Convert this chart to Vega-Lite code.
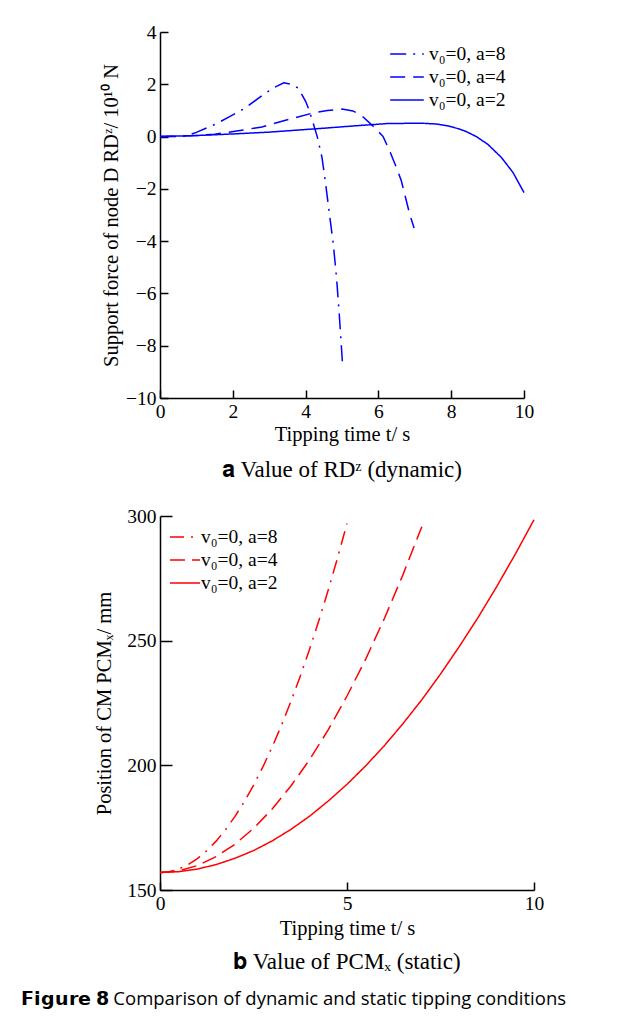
{
  "$schema": "https://vega.github.io/schema/vega-lite/v6.json",
  "background": "white",
  "padding": {"left": 20, "top": 22, "right": 5, "bottom": 5},
  "spacing": 24,
  "resolve": {"scale": {"strokeDash": "independent"}, "legend": {"strokeDash": "independent"}},
  "config": {
    "font": "Liberation Serif",
    "view": {"stroke": null},
    "axis": {
      "domainColor": "black", "domainWidth": 1.5,
      "tickColor": "black", "tickWidth": 1.5, "tickSize": -8,
      "labelPadding": 12, "labelFont": "Liberation Serif", "labelFontSize": 19.5, "labelColor": "black", "labelFlush": false,
      "titleFont": "Liberation Serif", "titleFontSize": 20.5, "titleFontWeight": "normal", "titleColor": "black",
      "grid": false
    },
    "legend": {
      "orient": "none", "title": null, "symbolSize": 576,
      "symbolStrokeWidth": 1.5, "labelFont": "Liberation Serif", "labelFontSize": 19.5, "labelColor": "black",
      "rowPadding": 0
    },
    "title": {"font": "Liberation Serif", "fontSize": 23, "fontWeight": "normal", "color": "black"}
  },
  "title": {
    "text": "𝗙𝗶𝗴𝘂𝗿𝗲 𝟴  Comparison of dynamic and static tipping conditions",
    "orient": "bottom", "anchor": "start", "font": "Open Sans", "fontSize": 18.5, "fontWeight": "normal", "dx": -74, "offset": 16
  },
  "datasets": {
    "a": [
      {"s": "v₀=0, a=8", "t": 0, "v": 0},
      {"s": "v₀=0, a=8", "t": 0.3, "v": 0},
      {"s": "v₀=0, a=8", "t": 0.7, "v": 0.02},
      {"s": "v₀=0, a=8", "t": 1.0, "v": 0.16},
      {"s": "v₀=0, a=8", "t": 1.5, "v": 0.46},
      {"s": "v₀=0, a=8", "t": 1.9, "v": 0.75},
      {"s": "v₀=0, a=8", "t": 2.3, "v": 1.06},
      {"s": "v₀=0, a=8", "t": 2.8, "v": 1.56},
      {"s": "v₀=0, a=8", "t": 3.1, "v": 1.85},
      {"s": "v₀=0, a=8", "t": 3.4, "v": 2.06},
      {"s": "v₀=0, a=8", "t": 3.6, "v": 2.0},
      {"s": "v₀=0, a=8", "t": 3.8, "v": 1.85},
      {"s": "v₀=0, a=8", "t": 4.0, "v": 1.35},
      {"s": "v₀=0, a=8", "t": 4.1, "v": 1.0},
      {"s": "v₀=0, a=8", "t": 4.2, "v": 0.55},
      {"s": "v₀=0, a=8", "t": 4.32, "v": 0},
      {"s": "v₀=0, a=8", "t": 4.45, "v": -0.8},
      {"s": "v₀=0, a=8", "t": 4.55, "v": -1.8},
      {"s": "v₀=0, a=8", "t": 4.64, "v": -2.8},
      {"s": "v₀=0, a=8", "t": 4.76, "v": -4.1},
      {"s": "v₀=0, a=8", "t": 4.85, "v": -5.4},
      {"s": "v₀=0, a=8", "t": 4.92, "v": -6.7},
      {"s": "v₀=0, a=8", "t": 5.01, "v": -8.6},
      {"s": "v₀=0, a=4", "t": 0, "v": 0},
      {"s": "v₀=0, a=4", "t": 0.5, "v": 0.01},
      {"s": "v₀=0, a=4", "t": 1.0, "v": 0.04},
      {"s": "v₀=0, a=4", "t": 1.5, "v": 0.09},
      {"s": "v₀=0, a=4", "t": 2.15, "v": 0.22},
      {"s": "v₀=0, a=4", "t": 2.8, "v": 0.37},
      {"s": "v₀=0, a=4", "t": 3.5, "v": 0.64},
      {"s": "v₀=0, a=4", "t": 4.25, "v": 0.92},
      {"s": "v₀=0, a=4", "t": 4.6, "v": 1.0},
      {"s": "v₀=0, a=4", "t": 5.0, "v": 1.05},
      {"s": "v₀=0, a=4", "t": 5.3, "v": 0.98},
      {"s": "v₀=0, a=4", "t": 5.55, "v": 0.79},
      {"s": "v₀=0, a=4", "t": 5.9, "v": 0.34},
      {"s": "v₀=0, a=4", "t": 6.13, "v": 0},
      {"s": "v₀=0, a=4", "t": 6.31, "v": -0.55},
      {"s": "v₀=0, a=4", "t": 6.5, "v": -1.2},
      {"s": "v₀=0, a=4", "t": 6.63, "v": -1.69},
      {"s": "v₀=0, a=4", "t": 6.86, "v": -2.97},
      {"s": "v₀=0, a=4", "t": 6.98, "v": -3.5},
      {"s": "v₀=0, a=2", "t": 0, "v": 0},
      {"s": "v₀=0, a=2", "t": 1, "v": 0.04},
      {"s": "v₀=0, a=2", "t": 2, "v": 0.1},
      {"s": "v₀=0, a=2", "t": 3, "v": 0.17},
      {"s": "v₀=0, a=2", "t": 4, "v": 0.27},
      {"s": "v₀=0, a=2", "t": 4.5, "v": 0.32},
      {"s": "v₀=0, a=2", "t": 5.35, "v": 0.41},
      {"s": "v₀=0, a=2", "t": 6.27, "v": 0.5},
      {"s": "v₀=0, a=2", "t": 7.2, "v": 0.51},
      {"s": "v₀=0, a=2", "t": 7.6, "v": 0.48},
      {"s": "v₀=0, a=2", "t": 7.9, "v": 0.41},
      {"s": "v₀=0, a=2", "t": 8.2, "v": 0.3},
      {"s": "v₀=0, a=2", "t": 8.4, "v": 0.2},
      {"s": "v₀=0, a=2", "t": 8.69, "v": 0},
      {"s": "v₀=0, a=2", "t": 9.0, "v": -0.29},
      {"s": "v₀=0, a=2", "t": 9.38, "v": -0.8},
      {"s": "v₀=0, a=2", "t": 9.7, "v": -1.38},
      {"s": "v₀=0, a=2", "t": 10, "v": -2.14}
    ],
    "b": [
      {"s": "v₀=0, a=8", "t": 0, "p": 157},
      {"s": "v₀=0, a=8", "t": 0.25, "p": 157.35},
      {"s": "v₀=0, a=8", "t": 0.5, "p": 158.4},
      {"s": "v₀=0, a=8", "t": 0.75, "p": 160.15},
      {"s": "v₀=0, a=8", "t": 1, "p": 162.6},
      {"s": "v₀=0, a=8", "t": 1.25, "p": 165.75},
      {"s": "v₀=0, a=8", "t": 1.5, "p": 169.6},
      {"s": "v₀=0, a=8", "t": 1.75, "p": 174.15},
      {"s": "v₀=0, a=8", "t": 2, "p": 179.4},
      {"s": "v₀=0, a=8", "t": 2.25, "p": 185.35},
      {"s": "v₀=0, a=8", "t": 2.5, "p": 192},
      {"s": "v₀=0, a=8", "t": 2.75, "p": 199.35},
      {"s": "v₀=0, a=8", "t": 3, "p": 207.4},
      {"s": "v₀=0, a=8", "t": 3.25, "p": 216.15},
      {"s": "v₀=0, a=8", "t": 3.5, "p": 225.6},
      {"s": "v₀=0, a=8", "t": 3.75, "p": 235.75},
      {"s": "v₀=0, a=8", "t": 4, "p": 246.6},
      {"s": "v₀=0, a=8", "t": 4.25, "p": 258.15},
      {"s": "v₀=0, a=8", "t": 4.5, "p": 270.4},
      {"s": "v₀=0, a=8", "t": 4.75, "p": 283.35},
      {"s": "v₀=0, a=8", "t": 5, "p": 297},
      {"s": "v₀=0, a=4", "t": 0, "p": 157},
      {"s": "v₀=0, a=4", "t": 0.5, "p": 157.7},
      {"s": "v₀=0, a=4", "t": 1, "p": 159.8},
      {"s": "v₀=0, a=4", "t": 1.5, "p": 163.4},
      {"s": "v₀=0, a=4", "t": 2, "p": 168.3},
      {"s": "v₀=0, a=4", "t": 2.5, "p": 174.7},
      {"s": "v₀=0, a=4", "t": 3, "p": 182.5},
      {"s": "v₀=0, a=4", "t": 3.5, "p": 191.7},
      {"s": "v₀=0, a=4", "t": 4, "p": 202.3},
      {"s": "v₀=0, a=4", "t": 4.5, "p": 214.3},
      {"s": "v₀=0, a=4", "t": 5, "p": 227.8},
      {"s": "v₀=0, a=4", "t": 5.5, "p": 242.6},
      {"s": "v₀=0, a=4", "t": 6, "p": 258.9},
      {"s": "v₀=0, a=4", "t": 6.5, "p": 276.6},
      {"s": "v₀=0, a=4", "t": 7, "p": 295.7},
      {"s": "v₀=0, a=2", "t": 0, "p": 157},
      {"s": "v₀=0, a=2", "t": 0.5, "p": 157.35},
      {"s": "v₀=0, a=2", "t": 1, "p": 158.4},
      {"s": "v₀=0, a=2", "t": 1.5, "p": 160.2},
      {"s": "v₀=0, a=2", "t": 2, "p": 162.7},
      {"s": "v₀=0, a=2", "t": 2.5, "p": 165.8},
      {"s": "v₀=0, a=2", "t": 3, "p": 169.7},
      {"s": "v₀=0, a=2", "t": 3.5, "p": 174.3},
      {"s": "v₀=0, a=2", "t": 4, "p": 179.6},
      {"s": "v₀=0, a=2", "t": 4.5, "p": 185.7},
      {"s": "v₀=0, a=2", "t": 5, "p": 192.4},
      {"s": "v₀=0, a=2", "t": 5.5, "p": 199.8},
      {"s": "v₀=0, a=2", "t": 6, "p": 207.9},
      {"s": "v₀=0, a=2", "t": 6.5, "p": 216.8},
      {"s": "v₀=0, a=2", "t": 7, "p": 226.3},
      {"s": "v₀=0, a=2", "t": 7.5, "p": 236.6},
      {"s": "v₀=0, a=2", "t": 8, "p": 247.6},
      {"s": "v₀=0, a=2", "t": 8.5, "p": 259.2},
      {"s": "v₀=0, a=2", "t": 9, "p": 271.6},
      {"s": "v₀=0, a=2", "t": 9.5, "p": 284.7},
      {"s": "v₀=0, a=2", "t": 10, "p": 298.5}
    ]
  },
  "vconcat": [
    {
      "width": 364, "height": 366,
      "title": {"text": "𝐚 Value of RDᶻ (dynamic)", "orient": "bottom", "anchor": "middle", "offset": 14},
      "layer": [
        {
          "data": {"name": "a"},
          "mark": {"type": "line", "strokeWidth": 1.5, "color": "#0000ff"},
          "encoding": {
            "x": {"field": "t", "type": "quantitative", "scale": {"domain": [0, 10], "nice": false},
                  "axis": {"values": [0, 2, 4, 6, 8, 10], "title": "Tipping time t/ s"}},
            "y": {"field": "v", "type": "quantitative", "scale": {"domain": [-10, 4], "nice": false},
                  "axis": {"values": [-10, -8, -6, -4, -2, 0, 2, 4], "title": "Support force of node D RDᶻ/ 10¹⁰ N"}},
            "strokeDash": {"field": "s", "type": "nominal",
                  "scale": {"domain": ["v₀=0, a=8", "v₀=0, a=4", "v₀=0, a=2"], "range": [[16, 7, 2, 7], [15, 8], [1, 0]]},
                  "legend": {"legendX": 234, "legendY": 9, "symbolType": "M-1.4,0H1.4", "symbolStrokeColor": "#0000ff", "labelOffset": 9}}
          }
        },
        {
          "mark": {"type": "rule", "color": "black", "strokeWidth": 2},
          "encoding": {"y": {"datum": 0}}
        }
      ]
    },
    {
      "width": 374, "height": 374,
      "title": {"text": "𝐛 Value of PCMₓ (static)", "orient": "bottom", "anchor": "middle", "offset": 12},
      "layer": [
        {
          "data": {"name": "b"},
          "mark": {"type": "line", "strokeWidth": 1.5, "color": "#ff0000"},
          "encoding": {
            "x": {"field": "t", "type": "quantitative", "scale": {"domain": [0, 10], "nice": false},
                  "axis": {"values": [0, 5, 10], "title": "Tipping time t/ s", "titlePadding": 6}},
            "y": {"field": "p", "type": "quantitative", "scale": {"domain": [150, 300], "nice": false, "zero": false},
                  "axis": {"values": [150, 200, 250, 300], "title": "Position of CM PCMₓ/ mm", "tickSize": -12, "labelPadding": 16, "titlePadding": 12}},
            "strokeDash": {"field": "s", "type": "nominal",
                  "scale": {"domain": ["v₀=0, a=8", "v₀=0, a=4", "v₀=0, a=2"], "range": [[14, 7, 2, 7], [15, 7], [1, 0]]},
                  "legend": {"legendX": 12, "legendY": 8, "symbolType": "M-1.25,0H1.25", "symbolStrokeColor": "#ff0000", "labelOffset": 3}}
          }
        },
        {
          "mark": {"type": "rule", "color": "black", "strokeWidth": 2},
          "encoding": {"y": {"datum": 198.3}}
        }
      ]
    }
  ]
}
